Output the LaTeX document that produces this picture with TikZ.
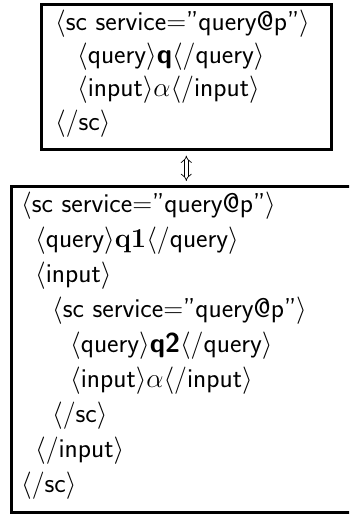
\RequirePackage{fix-cm}
\documentclass[tikz,border=0pt]{standalone}
\usetikzlibrary{arrows.meta}
\tikzset{
  box/.style={draw=black, line width=2.6pt, inner sep=0pt, anchor=north west},
  codeline/.style={anchor=base west, inner sep=0pt, font=\sffamily\fontsize{27.3}{33}\selectfont},
  dblarrow/.style={double, double distance=3.2pt, line width=0.7pt, {Implies}-{Implies}},
}
\newcommand{\tg}[1]{$\langle$#1$\rangle$}
\begin{document}
\begin{tikzpicture}[x=1pt,y=-1pt]
\useasboundingbox (0,0) rectangle (349,515);
\clip (0,0) rectangle (349,515);
% boxes
\node[box, minimum width=290pt, minimum height=145pt] (top) at (40,3) {};
\node[box, minimum width=350pt, minimum height=326pt] (bot) at (10,185) {};
% top box text
\node[codeline] (t1) at (55,30)  {\tg{sc service=''query@p''}};
\node[codeline] (t2) at (77,63)  {\tg{query}\textbf{q}\tg{/query}};
\node[codeline] (t3) at (77,96)  {\tg{input}$\alpha$\tg{/input}};
\node[codeline] (t4) at (55,130) {\tg{/sc}};
% bottom box text
\node[codeline] (b1) at (21,212) {\tg{sc service=''query@p''}};
\node[codeline] (b2) at (35,247) {\tg{query}$\mathbf{q1}$\tg{/query}};
\node[codeline] (b3) at (35,282) {\tg{input}};
\node[codeline] (b4) at (52,317) {\tg{sc service=''query@p''}};
\node[codeline] (b5) at (70,352) {\tg{query}\textbf{q2}\tg{/query}};
\node[codeline] (b6) at (70,387) {\tg{input}$\alpha$\tg{/input}};
\node[codeline] (b7) at (52,422) {\tg{/sc}};
\node[codeline] (b8) at (35,457) {\tg{/input}};
\node[codeline] (b9) at (21,492) {\tg{/sc}};
% double arrow between boxes
\coordinate (ax) at (top.south -| bot.north);
\draw[dblarrow] ([yshift=-5pt]ax) -- ([yshift=4pt]bot.north);
\end{tikzpicture}
\end{document}
